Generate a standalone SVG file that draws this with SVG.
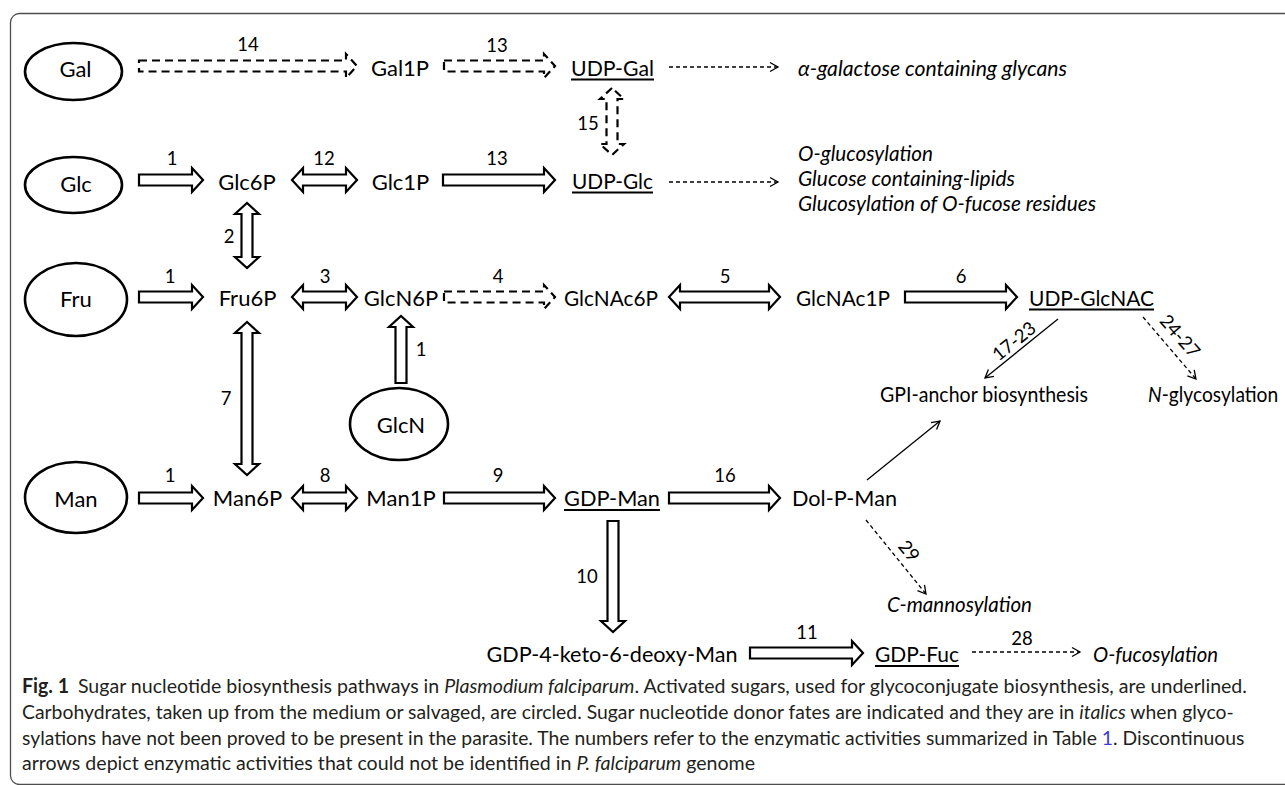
<svg xmlns="http://www.w3.org/2000/svg" width="1285" height="785" viewBox="0 0 1285 785">
<style>
text{font-family:Lato,"Liberation Sans",sans-serif;fill:#000}
.lbl{font-size:22px}
.num{font-size:18.5px;text-anchor:middle}
.mid{text-anchor:middle}
.it{font-style:italic}
.ell{fill:#fff;stroke:#000;stroke-width:2.6}
.blk{fill:#fff;stroke:#000;stroke-width:2.2;stroke-linejoin:miter}
.dash{stroke-dasharray:8 5}
.thin{fill:none;stroke:#000;stroke-width:1.3}
.dthin{stroke-dasharray:4 3}
.ul{stroke:#000;stroke-width:1.8}
.cap{font-size:20px;fill:#231f20}
</style>
<defs>
<marker id="open" markerWidth="12" markerHeight="12" refX="10" refY="6" orient="auto" markerUnits="userSpaceOnUse">
<path d="M2,1.5 L10,6 L2,10.5" fill="none" stroke="#000" stroke-width="1.3"/>
</marker>
</defs>
<rect x="10.5" y="13.5" width="1300" height="771" rx="9" fill="none" stroke="#4d4d4d" stroke-width="1.3"/>

<g id="connectors">
<path class="blk dash" d="M139,60.5 L346,60.5 L346,54 L357,66 L346,78 L346,71.5 L139,71.5 Z"/>
<text class="num" x="248" y="51">14</text>
<path class="blk dash" d="M444,60.5 L544,60.5 L544,54 L555,66 L544,78 L544,71.5 L444,71.5 Z"/>
<text class="num" x="497" y="52">13</text>
<path class="blk dash" d="M612,88 L600,99 L606.5,99 L606.5,144 L600,144 L612,155 L624,144 L617.5,144 L617.5,99 L624,99 Z"/>
<text class="num" x="588" y="130">15</text>
<path class="blk" d="M139,174.5 L192,174.5 L192,168 L203,180 L192,192 L192,185.5 L139,185.5 Z"/>
<text class="num" x="172" y="165">1</text>
<path class="blk" d="M292,180 L303,168 L303,174.5 L346,174.5 L346,168 L357,180 L346,192 L346,185.5 L303,185.5 L303,192 Z"/>
<text class="num" x="324" y="165">12</text>
<path class="blk" d="M443,174.5 L544,174.5 L544,168 L555,180 L544,192 L544,185.5 L443,185.5 Z"/>
<text class="num" x="497" y="165">13</text>
<path class="blk" d="M247,203 L235,214 L241.5,214 L241.5,257 L235,257 L247,268 L259,257 L252.5,257 L252.5,214 L259,214 Z"/>
<text class="num" x="229" y="243">2</text>
<path class="blk" d="M139,291.5 L192,291.5 L192,285 L203,297 L192,309 L192,302.5 L139,302.5 Z"/>
<text class="num" x="170" y="283">1</text>
<path class="blk" d="M292,297 L303,285 L303,291.5 L346,291.5 L346,285 L357,297 L346,309 L346,302.5 L303,302.5 L303,309 Z"/>
<text class="num" x="325" y="283">3</text>
<path class="blk dash" d="M444,291.5 L544,291.5 L544,285 L555,297 L544,309 L544,302.5 L444,302.5 Z"/>
<text class="num" x="498" y="283">4</text>
<path class="blk" d="M669,297 L680,285 L680,291.5 L769,291.5 L769,285 L780,297 L769,309 L769,302.5 L680,302.5 L680,309 Z"/>
<text class="num" x="725" y="283">5</text>
<path class="blk" d="M905,291.5 L1006,291.5 L1006,285 L1017,297 L1006,309 L1006,302.5 L905,302.5 Z"/>
<text class="num" x="961" y="283">6</text>
<path class="blk" d="M395.5,383 L395.5,327 L389,327 L401,316 L413,327 L406.5,327 L406.5,383 Z"/>
<text class="num" x="421" y="356">1</text>
<path class="blk" d="M247,322 L235,333 L241.5,333 L241.5,464 L235,464 L247,475 L259,464 L252.5,464 L252.5,333 L259,333 Z"/>
<text class="num" x="226" y="405">7</text>
<path class="blk" d="M139,492.5 L192,492.5 L192,486 L203,498 L192,510 L192,503.5 L139,503.5 Z"/>
<text class="num" x="170" y="482">1</text>
<path class="blk" d="M292,498 L303,486 L303,492.5 L346,492.5 L346,486 L357,498 L346,510 L346,503.5 L303,503.5 L303,510 Z"/>
<text class="num" x="325" y="482">8</text>
<path class="blk" d="M444,492.5 L544,492.5 L544,486 L555,498 L544,510 L544,503.5 L444,503.5 Z"/>
<text class="num" x="498" y="482">9</text>
<path class="blk" d="M669,492.5 L769,492.5 L769,486 L780,498 L769,510 L769,503.5 L669,503.5 Z"/>
<text class="num" x="725" y="482">16</text>
<path class="blk" d="M607.5,521 L618.5,521 L618.5,621 L625,621 L613,632 L601,621 L607.5,621 Z"/>
<text class="num" x="587" y="583">10</text>
<path class="blk" d="M750,647.5 L852,647.5 L852,641 L863,653 L852,665 L852,658.5 L750,658.5 Z"/>
<text class="num" x="807" y="639">11</text>
<line class="thin dthin" x1="669" y1="67" x2="778" y2="67" marker-end="url(#open)"/>
<line class="thin dthin" x1="669" y1="182" x2="778" y2="182" marker-end="url(#open)"/>
<line class="thin" x1="1058" y1="319" x2="985" y2="378" marker-end="url(#open)"/>
<text class="num" x="1014" y="347.5" transform="rotate(-39 1014 341)">17-23</text>
<line class="thin dthin" x1="1143" y1="317" x2="1196" y2="379" marker-end="url(#open)"/>
<text class="num" x="1180" y="342.5" transform="rotate(49 1180 336)">24-27</text>
<line class="thin" x1="867" y1="480" x2="940" y2="421" marker-end="url(#open)"/>
<line class="thin dthin" x1="866" y1="520" x2="926" y2="594" marker-end="url(#open)"/>
<text class="num" x="909" y="557.5" transform="rotate(51 909 551)">29</text>
<line class="thin dthin" x1="972" y1="652" x2="1080" y2="652" marker-end="url(#open)"/>
<text class="num" x="1022" y="645">28</text>
</g>

<g id="node-gal"><ellipse class="ell" cx="73.5" cy="71.5" rx="48.5" ry="28.5"/><text class="lbl mid" x="75.5" y="77">Gal</text></g>
<g id="node-glc"><ellipse class="ell" cx="73.5" cy="185" rx="48.5" ry="28"/><text class="lbl mid" x="76" y="192">Glc</text></g>
<g id="node-fru"><ellipse class="ell" cx="76" cy="299.5" rx="51" ry="36.5"/><text class="lbl mid" x="76" y="307">Fru</text></g>
<g id="node-man"><ellipse class="ell" cx="76" cy="497.5" rx="51" ry="35.5"/><text class="lbl mid" x="76" y="507">Man</text></g>
<g id="node-glcn"><ellipse class="ell" cx="399" cy="424" rx="49" ry="36"/><text class="lbl mid" x="401" y="433">GlcN</text></g>

<g id="node-gal1p"><text class="lbl mid" x="400" y="76">Gal1P</text></g>
<g id="node-udpgal"><text class="lbl mid" x="612.5" y="76" textLength="83" lengthAdjust="spacingAndGlyphs">UDP-Gal</text><line class="ul" x1="571" y1="79.5" x2="654" y2="79.5"/></g>
<g id="node-agal"><text class="lbl it" x="798" y="76" textLength="269" lengthAdjust="spacingAndGlyphs">α-galactose containing glycans</text></g>

<g id="node-glc6p"><text class="lbl mid" x="247" y="190">Glc6P</text></g>
<g id="node-glc1p"><text class="lbl mid" x="400.5" y="190">Glc1P</text></g>
<g id="node-udpglc"><text class="lbl mid" x="612.5" y="189" textLength="81" lengthAdjust="spacingAndGlyphs">UDP-Glc</text><line class="ul" x1="572" y1="192.5" x2="653" y2="192.5"/></g>
<g id="node-glcfates">
<text class="lbl it" x="798" y="161" textLength="135" lengthAdjust="spacingAndGlyphs">O-glucosylation</text>
<text class="lbl it" x="798" y="186" textLength="217" lengthAdjust="spacingAndGlyphs">Glucose containing-lipids</text>
<text class="lbl it" x="798" y="211" textLength="298" lengthAdjust="spacingAndGlyphs">Glucosylation of O-fucose residues</text>
</g>

<g id="node-fru6p"><text class="lbl mid" x="247.5" y="306">Fru6P</text></g>
<g id="node-glcn6p"><text class="lbl mid" x="401" y="306">GlcN6P</text></g>
<g id="node-glcnac6p"><text class="lbl mid" x="611" y="306" textLength="94" lengthAdjust="spacingAndGlyphs">GlcNAc6P</text></g>
<g id="node-glcnac1p"><text class="lbl mid" x="843" y="306" textLength="94" lengthAdjust="spacingAndGlyphs">GlcNAc1P</text></g>
<g id="node-udpglcnac"><text class="lbl mid" x="1091.5" y="306" textLength="125" lengthAdjust="spacingAndGlyphs">UDP-GlcNAC</text><line class="ul" x1="1029" y1="309.5" x2="1154" y2="309.5"/></g>
<g id="node-gpi"><text class="lbl mid" x="984" y="402" textLength="208" lengthAdjust="spacingAndGlyphs">GPI-anchor biosynthesis</text></g>
<g id="node-nglyc"><text class="lbl" transform="translate(1148 402) scale(0.88 1)" x="0" y="0" textLength="148" lengthAdjust="spacingAndGlyphs"><tspan class="it">N</tspan>-glycosylation</text></g>

<g id="node-man6p"><text class="lbl mid" x="247.5" y="506">Man6P</text></g>
<g id="node-man1p"><text class="lbl mid" x="401" y="506">Man1P</text></g>
<g id="node-gdpman"><text class="lbl mid" x="612" y="506" textLength="96" lengthAdjust="spacingAndGlyphs">GDP-Man</text><line class="ul" x1="564" y1="510" x2="660" y2="510"/></g>
<g id="node-dolpman"><text class="lbl mid" x="844.5" y="506" textLength="105" lengthAdjust="spacingAndGlyphs">Dol-P-Man</text></g>
<g id="node-cman"><text class="lbl it" x="887" y="612" textLength="145" lengthAdjust="spacingAndGlyphs">C-mannosylation</text></g>

<g id="node-gdpketo"><text class="lbl mid" x="612" y="662" textLength="251" lengthAdjust="spacingAndGlyphs">GDP-4-keto-6-deoxy-Man</text></g>
<g id="node-gdpfuc"><text class="lbl mid" x="917" y="662" textLength="84" lengthAdjust="spacingAndGlyphs">GDP-Fuc</text><line class="ul" x1="875" y1="666" x2="959" y2="666"/></g>
<g id="node-ofuc"><text class="lbl it" x="1093" y="662" textLength="125" lengthAdjust="spacingAndGlyphs">O-fucosylation</text></g>

<g id="caption" transform="translate(22 0) scale(0.88 1)">
<text class="cap" x="0" y="693" textLength="1392" lengthAdjust="spacingAndGlyphs"><tspan font-weight="bold">Fig. 1</tspan><tspan dx="9">Sugar nucleotide biosynthesis pathways in </tspan><tspan font-style="italic">Plasmodium falciparum</tspan>. Activated sugars, used for glycoconjugate biosynthesis, are underlined.</text>
<text class="cap" x="0" y="719" textLength="1377" lengthAdjust="spacingAndGlyphs">Carbohydrates, taken up from the medium or salvaged, are circled. Sugar nucleotide donor fates are indicated and they are in <tspan font-style="italic">italics</tspan> when glyco-</text>
<text class="cap" x="0" y="745" textLength="1389" lengthAdjust="spacingAndGlyphs">sylations have not been proved to be present in the parasite. The numbers refer to the enzymatic activities summarized in Table <tspan style="fill:#3b3bd6">1</tspan>. Discontinuous</text>
<text class="cap" x="0" y="770" textLength="833" lengthAdjust="spacingAndGlyphs">arrows depict enzymatic activities that could not be identified in <tspan font-style="italic">P. falciparum</tspan> genome</text>
</g>
</svg>
